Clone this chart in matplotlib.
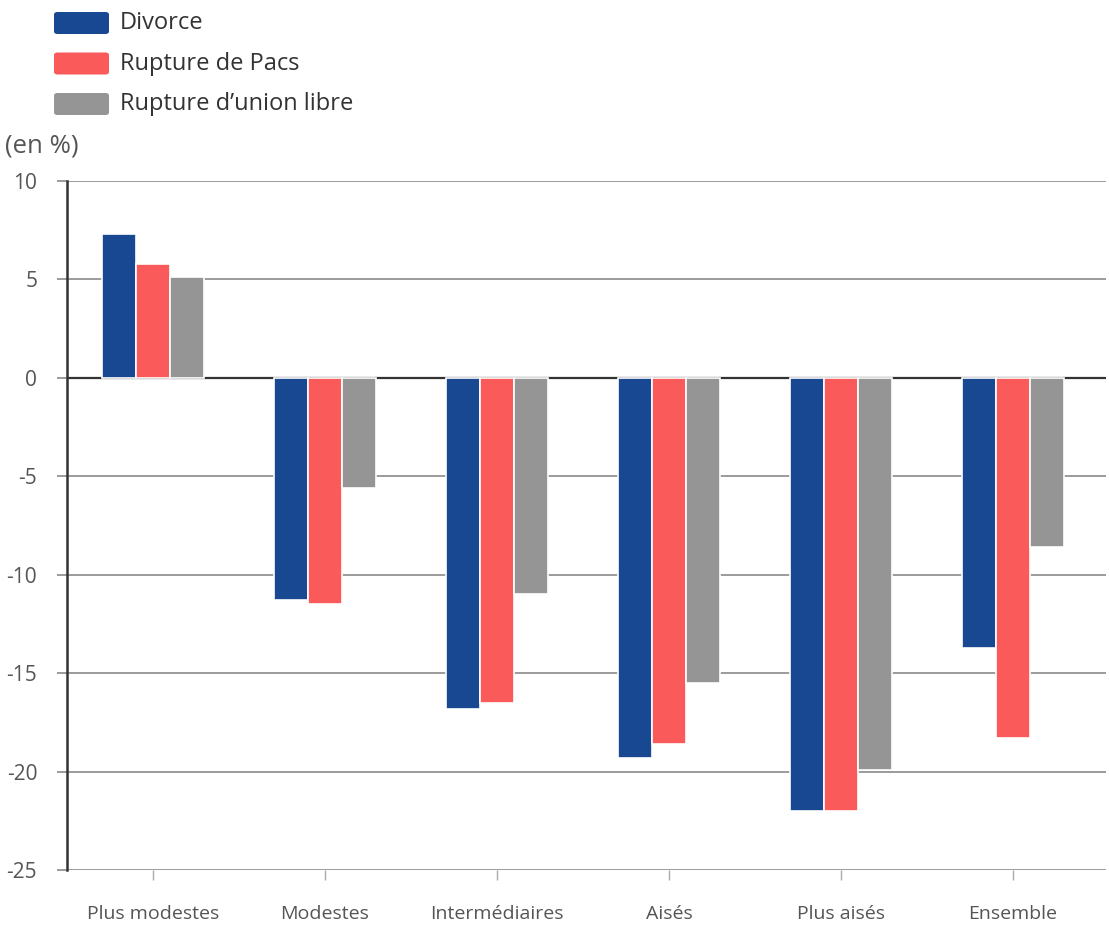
import numpy as np
import matplotlib.pyplot as plt
from matplotlib.patches import FancyBboxPatch

plt.rcParams['font.family'] = ['Open Sans', 'DejaVu Sans']

categories = ['Plus modestes', 'Modestes', 'Intermédiaires', 'Aisés', 'Plus aisés', 'Ensemble']
series_names = ['Divorce', 'Rupture de Pacs', 'Rupture d\u2019union libre']
divorce = [7.3, -11.3, -16.8, -19.3, -22.0, -13.7]
pacs = [5.8, -11.5, -16.5, -18.6, -22.0, -18.3]
union_libre = [5.1, -5.6, -11.0, -15.5, -19.9, -8.6]
colors = ['#194893', '#fa5a5a', '#959595']

fig = plt.figure(figsize=(11.09, 9.26), dpi=100)
W, H = 1109, 926
ax = fig.add_axes([67 / W, 1 - 870 / H, (1106 - 67) / W, (870 - 181) / H])

x = np.arange(len(categories))
bw = 0.197
for i, (vals, c) in enumerate(zip([divorce, pacs, union_libre], colors)):
    ax.bar(x + (i - 1) * bw, vals, bw, color=c, edgecolor='white', linewidth=1.2, zorder=3)

ax.set_xlim(-0.5, 5.54)
ax.set_ylim(-25, 10)
ax.set_yticks(np.arange(-25, 11, 5))
ax.set_yticklabels([str(v) for v in range(-25, 11, 5)])
ax.yaxis.grid(True, color='#8a8a8a', linewidth=1.2, zorder=1)
ax.axhline(0, color='#333333', linewidth=1.6, zorder=2)
ax.set_xticks(x)
ax.set_xticklabels(categories)

for s in ['top', 'right', 'bottom']:
    ax.spines[s].set_visible(False)
ax.spines['left'].set_color('#333333')
ax.spines['left'].set_linewidth(1.8)
ax.tick_params(axis='y', length=7.5, color='#8a8a8a', width=1.2, labelsize=15, labelcolor='#555555', pad=14)
ax.tick_params(axis='x', length=7.5, color='#aaaaaa', width=1.0, labelsize=14, labelcolor='#555555', pad=18)

# y label
fig.text(5 / W, 1 - 146 / H, '(en %)', fontsize=18.5, color='#555555', va='center', ha='left')

# legend
for j, (name, c) in enumerate(zip(series_names, colors)):
    yc = 23 + j * 40.5
    p = FancyBboxPatch((54 / W, 1 - (yc + 11) / H), 55 / W, 22 / H,
                       boxstyle='round,pad=0,rounding_size=0.003',
                       transform=fig.transFigure, facecolor=c, edgecolor='none')
    fig.patches.append(p)
    fig.text(120 / W, 1 - yc / H, name, fontsize=17, color='#333333', va='center', ha='left')

fig.savefig('out.png', dpi=100, facecolor='white')
